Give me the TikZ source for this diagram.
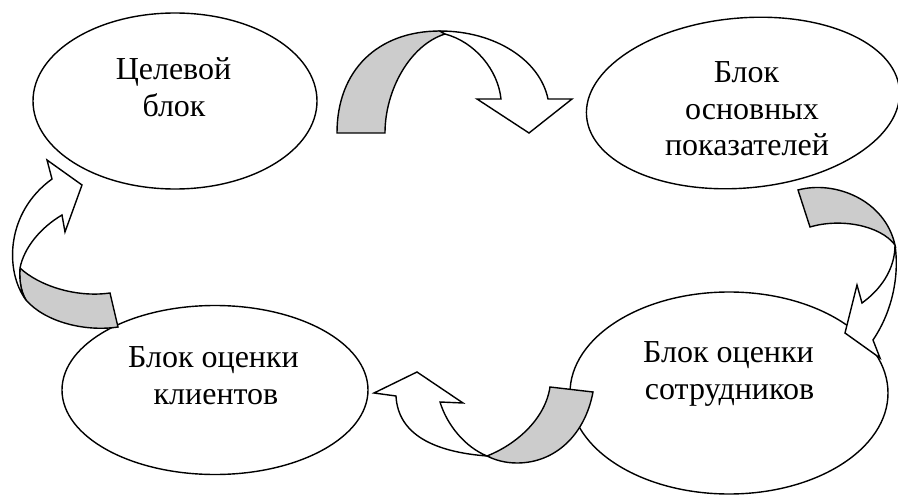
\documentclass[tikz,border=0pt]{standalone}
\usepackage{fontspec}
\setmainfont{Liberation Serif}
\usetikzlibrary{shapes.geometric}
\definecolor{arrowgray}{RGB}{204,204,204}
\begin{document}
\begin{tikzpicture}[x=1pt,y=-1pt,
  blob/.style={draw, ellipse, line width=1.4pt, inner sep=0pt, outer sep=0pt, fill=white},
  txt/.style={anchor=base, inner sep=0pt, font=\fontsize{32}{37}\selectfont},
  backband/.style={draw, fill=arrowgray, line width=1.4pt, line join=miter},
  frontband/.style={draw, fill=white, line width=1.4pt, line join=miter}]
\useasboundingbox (0,0) rectangle (898,495);

% ellipses
\node[blob, minimum width=284pt, minimum height=176pt] (e1) at (175,101) {};
\node[blob, minimum width=314pt, minimum height=170pt, rotate=5] (e2) at (743,103) {};
\node[blob, minimum width=318pt, minimum height=202pt] (e3) at (729,393) {};
\node[blob, minimum width=306pt, minimum height=169pt] (e4) at (215,390) {};

% texts
\node[txt] (t1a) at (173.5,80) {Целевой};
\node[txt] (t1b) at (174,117) {блок};
\node[txt] (t2a) at (746.5,83) {Блок};
\node[txt] (t2b) at (752,120) {основных};
\node[txt] (t2c) at (747,155) {показателей};
\node[txt] (t3a) at (728.5,362) {Блок оценки};
\node[txt] (t3b) at (729.5,399) {сотрудников};
\node[txt] (t4a) at (213.5,367) {Блок оценки};
\node[txt] (t4b) at (216,404) {клиентов};

% arrow 1: top
\path[backband] (337,133) .. controls (337,70) and (378,31) .. (440,31)
  -- (445,34) .. controls (410,45) and (385,90) .. (385,133) -- cycle;
\path[frontband] (440,31) .. controls (495,31) and (540,60) .. (548,99)
  -- (572,99) -- (529,133) -- (477,99) -- (501,99)
  .. controls (498,70) and (475,42) .. (445,34) -- cycle;

% arrow 2: right
\path[backband] (798,190) .. controls (835,180) and (885,200) .. (895,245)
  .. controls (880,225) and (840,218) .. (810,227) -- cycle;
\path[frontband] (895,245) .. controls (900,280) and (890,315) .. (873,340)
  -- (880,358) -- (845,333) -- (857,285) -- (862,303)
  .. controls (880,290) and (895,270) .. (895,245) -- cycle;

% arrow 3: bottom
\path[backband] (593,392) .. controls (585,435) and (555,463) .. (517,463)
  .. controls (505,463) and (495,460) .. (487,456)
  .. controls (515,445) and (545,420) .. (550,387) -- cycle;
\path[frontband] (487,456) .. controls (435,452) and (398,435) .. (396,396)
  -- (374,393) -- (417,372) -- (463,403) -- (440,402)
  .. controls (447,425) and (465,447) .. (487,456) -- cycle;

% arrow 4: left
\path[backband] (118,327) .. controls (85,332) and (45,322) .. (26,300)
  .. controls (21,292) and (19,280) .. (20,268)
  .. controls (38,285) and (75,298) .. (110,293) -- cycle;
\path[frontband] (26,300) .. controls (5,272) and (5,213) .. (52,179)
  -- (47,160) -- (82,185) -- (65,232) -- (62,215)
  .. controls (40,228) and (24,248) .. (20,268)
  .. controls (19,280) and (21,292) .. (26,300) -- cycle;
\end{tikzpicture}
\end{document}
